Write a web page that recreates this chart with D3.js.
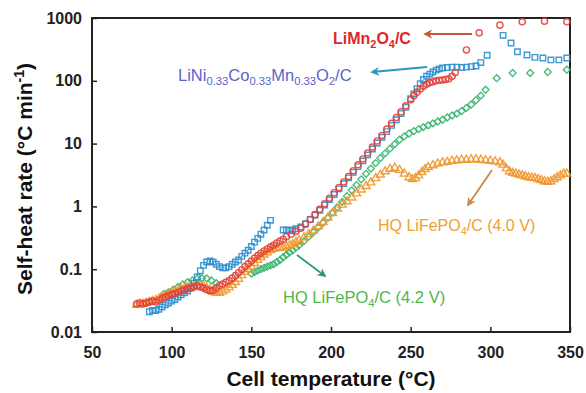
<!DOCTYPE html>
<html>
<head>
<meta charset="utf-8" />
<title>Self-heat rate</title>
<script src="https://cdn.jsdelivr.net/npm/d3@7"></script>
<style>
	body { margin: 0; background: #fff; }
	svg text { font-family: "Liberation Sans", Arial, sans-serif; }
</style>
</head>
<body>
<svg id="chart" width="586" height="393"></svg>

<script>
/* data: [temperature (°C), self-heat rate (°C/min)] */
var limn2o4 = [
	[78,0.028],[80,0.029],[82,0.028],[84,0.029],[86,0.030],[88,0.031],[90,0.030],[92,0.032],
	[94,0.034],[96,0.036],[98,0.038],[100,0.040],[102,0.041],[104,0.043],[106,0.045],[108,0.047],
	[110,0.049],[112,0.050],[114,0.052],[116,0.054],[118,0.052],[120,0.050],[122,0.047],[124,0.045],
	[126,0.046],[128,0.050],[130,0.055],[132,0.058],[134,0.062],[136,0.066],[138,0.072],[140,0.079],
	[142,0.088],[144,0.098],[146,0.110],[148,0.122],[150,0.135],[152,0.15],[154,0.165],[156,0.18],
	[158,0.195],[160,0.21],[162,0.225],[164,0.24],[166,0.26],[168,0.28],[170,0.30],[172,0.33],
	[175,0.36],[178,0.40],[181,0.45],[184,0.52],[187,0.62],[190,0.74],[193,0.9],[196,1.1],
	[199,1.35],[202,1.65],[205,2.0],[208,2.45],[211,3.0],[214,3.7],[217,4.6],[220,5.7],
	[223,7.1],[226,8.8],[229,11],[232,13.5],[235,17],[238,21],[241,26],[244,32],[247,40],
	[250,50],[252,58],[254,66],[256,74],[258,82],[260,88],[262,93],[264,97],[266,100],
	[268,102],[270,103],[272,105],[274,108],[276,118],[278,135],
	[285,310],[293,580],[306,770],[320,870],[334,890],[348,870]
];
var nmc = [
	[86,0.021],[88,0.022],[90,0.022],[92,0.023],[94,0.025],[96,0.027],[98,0.029],[100,0.031],
	[102,0.033],[104,0.036],[106,0.039],[108,0.042],[110,0.045],[112,0.050],[114,0.060],[116,0.075],
	[118,0.095],[120,0.115],[122,0.13],[124,0.135],[126,0.13],[128,0.12],[130,0.11],[132,0.105],
	[134,0.105],[136,0.11],[138,0.12],[140,0.13],[142,0.14],[144,0.16],[146,0.18],[148,0.20],
	[150,0.23],[152,0.27],[154,0.31],[156,0.36],[158,0.42],[160,0.50],[162,0.60],
	[170,0.42],[172,0.42],[174,0.41],[176,0.42],[178,0.44],[181,0.47],[184,0.53],[187,0.62],
	[190,0.73],[193,0.87],[196,1.05],[199,1.28],[202,1.55],[205,1.9],[208,2.3],[211,2.85],
	[214,3.5],[217,4.3],[220,5.3],[223,6.6],[226,8.2],[229,10.2],[232,12.6],[235,15.5],
	[238,19.5],[241,24],[244,30],[247,38],[250,52],[252,62],[254,75],[256,90],[258,105],
	[260,118],[262,128],[264,138],[266,148],[268,155],[270,160],[273,163],[276,165],[279,165],
	[282,163],[285,165],[288,168],[291,172],[294,195],[298,255],[308,530],[313,400],[317,290],
	[323,258],[328,236],[333,231],[338,215],[343,215],[348,231]
];
var lfp42 = [
	[95,0.040],[98,0.043],[101,0.047],[104,0.052],[107,0.057],[110,0.062],[113,0.066],[116,0.070],
	[119,0.072],[122,0.071],[125,0.066],[128,0.060],
	[150,0.085],[152,0.09],[154,0.095],[156,0.10],[158,0.105],[160,0.11],[162,0.115],[164,0.12],
	[166,0.13],[168,0.14],[170,0.155],[172,0.17],[174,0.185],[176,0.20],[178,0.22],[180,0.24],
	[183,0.28],[186,0.33],[189,0.39],[192,0.46],[195,0.55],[198,0.66],[201,0.80],[204,0.97],
	[207,1.18],[210,1.45],[213,1.8],[216,2.2],[219,2.7],[222,3.3],[225,4.0],[228,4.9],
	[231,5.9],[234,7.0],[237,8.3],[240,9.8],[243,11.5],[246,13],[249,14.5],[252,15.8],
	[255,17],[258,18.3],[261,19.5],[264,21],[267,22.5],[270,24],[273,26],[276,28],
	[279,30],[282,33],[285,37],[288,42],[291,49],[294,58],[297,72],[304,110],[314,133],
	[325,133],[336,138],[348,150]
];
var lfp40 = [
	[78,0.027],[80,0.028],[82,0.028],[84,0.029],[86,0.030],[88,0.031],[90,0.032],[92,0.034],
	[94,0.036],[96,0.038],[98,0.040],[100,0.042],[102,0.044],[104,0.046],[106,0.048],[108,0.050],
	[110,0.052],[112,0.054],[114,0.055],[116,0.056],[118,0.055],[120,0.053],[122,0.050],[124,0.047],
	[126,0.044],[128,0.042],[130,0.042],[132,0.044],[134,0.047],[136,0.051],[138,0.056],[140,0.062],
	[142,0.070],[144,0.080],[146,0.090],[148,0.10],[150,0.11],[152,0.125],[154,0.14],[156,0.155],
	[158,0.17],[160,0.185],[162,0.20],[164,0.21],[166,0.215],[168,0.22],[170,0.22],[172,0.23],
	[174,0.24],[176,0.25],[178,0.27],[180,0.29],[183,0.32],[186,0.36],[189,0.41],[192,0.48],
	[195,0.56],[198,0.66],[201,0.78],[204,0.92],[207,1.06],[210,1.2],[213,1.38],[216,1.6],
	[219,1.85],[222,2.1],[225,2.4],[228,2.8],[231,3.2],[234,3.6],[237,3.95],[240,4.1],
	[243,3.8],[246,3.3],[249,2.9],[251,2.7],[253,2.8],[255,3.1],[257,3.5],[259,3.9],
	[261,4.2],[264,4.5],[267,4.8],[270,5.0],[273,5.1],[276,5.3],[279,5.4],[282,5.5],
	[285,5.5],[288,5.6],[291,5.6],[294,5.5],[297,5.4],[300,5.3],[303,5.2],[306,5.0],
	[308,4.6],[310,4.0],[312,3.6],[314,3.4],[316,3.3],[318,3.2],[320,3.1],[322,3.0],
	[324,2.9],[326,2.85],[328,2.8],[330,2.7],[332,2.6],[334,2.5],[336,2.45],[338,2.5],
	[340,2.7],[342,2.9],[344,3.1],[346,3.3],[348,3.3]
];

var xTicks = [50, 100, 150, 200, 250, 300, 350];
var yTicks = [0.01, 0.1, 1, 10, 100, 1000];

var margin = { top: 18, right: 16, bottom: 61, left: 92 };
var width  = 586 - margin.left - margin.right,
    height = 393 - margin.top  - margin.bottom;

var svg = d3.select("#chart");
var chart = svg.append("g")
	.attr("transform", "translate(" + margin.left + "," + margin.top + ")");

var x = d3.scaleLinear().domain([50, 350]).range([0, width]);
var y = d3.scaleLog().domain([0.01, 1000]).range([height, 0]);

// axes, ticks pointing inwards
var xAxis = chart.append("g")
	.attr("transform", "translate(0," + height + ")")
	.call(d3.axisBottom(x).tickValues(xTicks).tickSizeInner(-5).tickSizeOuter(0).tickPadding(15));
var yAxis = chart.append("g")
	.call(d3.axisLeft(y).tickValues(yTicks).tickSizeInner(-5).tickSizeOuter(0).tickPadding(10)
		.tickFormat(function(d) { return d >= 1 ? d3.format("d")(d) : String(d); }));

[xAxis, yAxis].forEach(function(a) {
	a.select(".domain").remove();
	a.selectAll(".tick line").attr("stroke", "#222").attr("stroke-width", 1.5);
	a.selectAll(".tick text")
		.attr("fill", "#222")
		.style("font-size", "16px")
		.style("font-weight", "bold");
});

chart.append("rect")
	.attr("width", width)
	.attr("height", height)
	.attr("fill", "none")
	.attr("stroke", "#222")
	.attr("stroke-width", 2);

// series
var series = [
	{ data: lfp42,   color: "#36b56e", shape: d3.symbolDiamond2, size: 30 },
	{ data: lfp40,   color: "#f0962a", shape: d3.symbolTriangle, size: 28 },
	{ data: nmc,     color: "#2a8fcf", shape: d3.symbolSquare,   size: 30 },
	{ data: limn2o4, color: "#e2413a", shape: d3.symbolCircle,   size: 30 }
];

series.forEach(function(s) {
	var sym = d3.symbol().type(s.shape).size(s.size);
	chart.append("g").selectAll("path")
		.data(s.data)
		.enter().append("path")
			.attr("d", sym)
			.attr("transform", function(d) { return "translate(" + x(d[0]) + "," + y(d[1]) + ")"; })
			.attr("fill", "none")
			.attr("stroke", s.color)
			.attr("stroke-width", 1.4)
			.attr("opacity", 0.9);
});

// arrows and labels
var defs = svg.append("defs");
function arrowHead(id, color) {
	defs.append("marker")
		.attr("id", id)
		.attr("viewBox", "0 0 10 10")
		.attr("refX", 8).attr("refY", 5)
		.attr("markerWidth", 5).attr("markerHeight", 5)
		.attr("markerUnits", "strokeWidth")
		.attr("orient", "auto")
		.append("path")
			.attr("d", "M0,0 L10,5 L0,10 L3,5 Z")
			.attr("fill", color);
}

var notes = [
	{ id: "aRed",    color: "#c9553f", from: [472, 34],  to: [425, 34] },
	{ id: "aBlue",   color: "#2a96c0", from: [427, 67],  to: [372, 72] },
	{ id: "aOrange", color: "#c8884a", from: [492, 170], to: [468, 205] },
	{ id: "aGreen",  color: "#2e9a78", from: [297, 255], to: [325, 276] }
];
notes.forEach(function(n) {
	arrowHead(n.id, n.color);
	svg.append("line")
		.attr("x1", n.from[0]).attr("y1", n.from[1])
		.attr("x2", n.to[0]).attr("y2", n.to[1])
		.attr("stroke", n.color)
		.attr("stroke-width", 1.8)
		.attr("marker-end", "url(#" + n.id + ")");
});

// label made of [text, isSubscript] parts
function label(px, py, parts, color, size, weight) {
	var t = svg.append("text")
		.attr("x", px).attr("y", py)
		.attr("fill", color)
		.style("font-size", size + "px")
		.style("font-weight", weight);
	var shifted = false;
	parts.forEach(function(p) {
		var sp = t.append("tspan").text(p[0]);
		if (p[1] && !shifted) { sp.attr("dy", 4).style("font-size", (size * 0.68) + "px"); shifted = true; }
		else if (p[1]) { sp.style("font-size", (size * 0.68) + "px"); }
		else if (shifted) { sp.attr("dy", -4); shifted = false; }
	});
	return t;
}

label(333, 44, [["LiMn"], ["2", 1], ["O"], ["4", 1], ["/C"]], "#e0262c", 16, "bold");
label(178, 81, [["LiNi"], ["0.33", 1], ["Co"], ["0.33", 1], ["Mn"], ["0.33", 1], ["O"], ["2", 1], ["/C"]], "#5b63c8", 16.5, "normal");
label(378, 231, [["HQ LiFePO"], ["4", 1], ["/C (4.0 V)"]], "#f0a030", 16, "normal");
label(283, 303, [["HQ LiFePO"], ["4", 1], ["/C (4.2 V)"]], "#4cb848", 16.5, "normal");

// axis titles
svg.append("text")
	.attr("x", margin.left + width / 2)
	.attr("y", 386)
	.attr("text-anchor", "middle")
	.attr("fill", "#111")
	.style("font-size", "21px")
	.style("font-weight", "bold")
	.text("Cell temperature (°C)");

var yl = svg.append("text")
	.attr("transform", "translate(32," + (margin.top + height / 2 + 4) + ") rotate(-90)")
	.attr("text-anchor", "middle")
	.attr("fill", "#111")
	.style("font-size", "21px")
	.style("font-weight", "bold");
yl.append("tspan").text("Self-heat rate (°C min");
yl.append("tspan").attr("dy", -8).style("font-size", "14px").text("-1");
yl.append("tspan").attr("dy", 8).text(")");
</script>
</body>
</html>
